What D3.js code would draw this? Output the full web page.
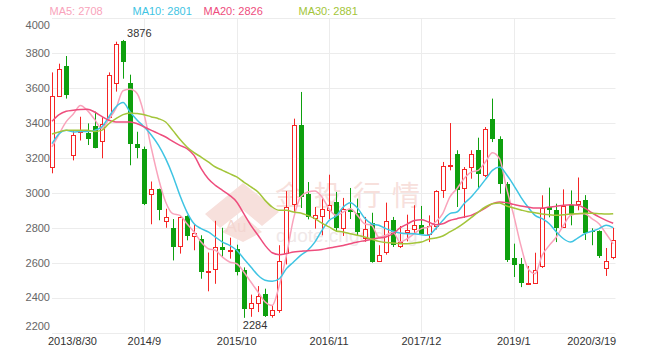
<!DOCTYPE html>
<html><head><meta charset="utf-8">
<script src="https://cdn.jsdelivr.net/npm/d3@7/dist/d3.min.js"></script>
<style>html,body{margin:0;padding:0;background:#fff;overflow:hidden}</style>
</head><body>
<svg id="c" width="655" height="356"></svg>
<script>
// ---------- DATA ----------
const categories = ["2013/8/30","2013/9","2013/10","2013/11","2013/12",
"2014/1","2014/2","2014/3","2014/4","2014/5","2014/6","2014/7","2014/8","2014/9","2014/10","2014/11","2014/12",
"2015/1","2015/2","2015/3","2015/4","2015/5","2015/6","2015/7","2015/8","2015/9","2015/10","2015/11","2015/12",
"2016/1","2016/2","2016/3","2016/4","2016/5","2016/6","2016/7","2016/8","2016/9","2016/10","2016/11","2016/12",
"2017/1","2017/2","2017/3","2017/4","2017/5","2017/6","2017/7","2017/8","2017/9","2017/10","2017/11","2017/12",
"2018/1","2018/2","2018/3","2018/4","2018/5","2018/6","2018/7","2018/8","2018/9","2018/10","2018/11","2018/12",
"2019/1","2019/2","2019/3","2019/4","2019/5","2019/6","2019/7","2019/8","2019/9","2019/10","2019/11","2019/12",
"2020/1","2020/2","2020/3/19"];
const openV  = [3150,3555,3725,3219,3350,3345,3383,3293,3436,3628,3868,3629,3280,3251,2991,3020,2841,2800,2693,2869,
                2750,2737,2547,2562,2690,2667,2680,2560,2340,2365,2422,2298,2327,2655,2939,3387,2992,2860,2866,2905,
                2948,2795,2905,2886,2741,2829,2613,2657,2842,2696,2775,2789,2818,2766,2808,3014,3151,3225,3028,3148,
                3244,3104,3425,3311,3053,2627,2594,2480,2483,2579,2919,2900,2804,2929,2934,2961,2779,2780,2571,2629];
const closeV = [3555,3708,3559,3333,3362,3312,3258,3392,3675,3853,3750,3282,3255,2936,3020,2900,2864,2690,2862,2753,
                2770,2550,2554,2690,2674,2670,2550,2336,2370,2407,2298,2327,2610,2920,3391,2976,2858,2875,2906,2933,
                2801,2906,2890,2780,2795,2608,2646,2837,2699,2718,2785,2814,2766,2810,3009,3154,3158,3020,3139,3225,
                3104,3368,3311,3053,2617,2589,2483,2485,2556,2913,2900,2799,2925,2875,2953,2772,2773,2636,2610,2728];
const highV  = [3690,3740,3784,3358,3436,3398,3465,3433,3690,3866,3876,3677,3350,3265,3065,3024,2909,2850,2865,2871,
                2818,2757,2658,2840,2800,2743,2703,2573,2417,2466,2451,2356,2700,3010,3425,3578,3062,2919,2971,3104,
                3005,2971,3028,2967,2862,2886,2700,2944,2862,2810,2875,2929,2925,2871,3015,3177,3400,3244,3148,3244,
                3316,3377,3540,3324,3062,2709,2627,2581,2657,2986,3030,2938,3020,3014,3088,2987,2797,2785,2684,2800];
const lowV   = [3112,3549,3540,3186,3300,3274,3255,3198,3427,3580,3654,3158,3198,2930,2820,2843,2800,2613,2652,2728,
                2671,2508,2436,2479,2630,2623,2527,2284,2290,2317,2289,2285,2313,2590,2890,2913,2848,2795,2757,2850,
                2776,2753,2850,2757,2720,2600,2608,2646,2690,2684,2722,2766,2760,2718,2790,2971,3129,2919,2856,3081,
                3024,3090,3291,2995,2604,2518,2460,2474,2480,2570,2860,2718,2799,2814,2900,2730,2700,2627,2524,2620];
const ma5  = [3264,3337,3408,3452,3500,3471,3421,3370,3421,3484,3585,3593,3568,3444,3253,3081,2948,2881,2871,2823,
              2776,2718,2680,2671,2632,2604,2594,2547,2489,2432,2375,2355,2470,2642,2852,2976,3005,3011,2976,2909,
              2871,2890,2909,2871,2823,2814,2747,2757,2776,2718,2737,2766,2795,2804,2833,2881,2976,3024,3081,3119,
              3129,3177,3230,3196,3024,2871,2699,2566,2537,2642,2699,2747,2814,2871,2881,2881,2852,2823,2766,2708];
const ma10 = [3282,3339,3358,3349,3352,3352,3358,3377,3435,3492,3517,3463,3416,3377,3330,3272,3196,3100,2986,2890,
              2823,2795,2776,2747,2718,2699,2671,2623,2575,2528,2499,2493,2508,2566,2604,2642,2671,2718,2785,2842,
              2867,2919,2944,2913,2856,2823,2814,2795,2780,2770,2766,2766,2760,2757,2795,2842,2881,2890,2938,2976,
              3024,3076,3129,3148,3104,3043,2976,2919,2871,2852,2823,2776,2737,2718,2741,2766,2780,2795,2814,2801];
const ma20 = [3410,3448,3467,3473,3477,3479,3463,3438,3416,3406,3406,3406,3396,3377,3358,3339,3320,3295,3272,3253,
              3215,3139,3081,3043,3014,2986,2948,2881,2814,2757,2699,2657,2646,2652,2661,2665,2669,2671,2676,2684,
              2691,2699,2709,2718,2726,2734,2741,2747,2766,2799,2821,2842,2846,2833,2818,2823,2842,2852,2862,2871,
              2890,2913,2938,2948,2944,2934,2925,2919,2913,2913,2919,2923,2929,2932,2929,2913,2886,2862,2842,2826];
const ma30 = [3337,3349,3358,3358,3358,3358,3352,3358,3396,3425,3448,3458,3454,3448,3435,3425,3406,3358,3307,3263,
              3230,3205,3177,3148,3129,3110,3091,3062,3034,3005,2957,2919,2900,2900,2890,2885,2871,2852,2827,2805,
              2782,2776,2766,2757,2747,2734,2722,2715,2713,2709,2709,2713,2718,2734,2741,2753,2776,2799,2827,2858,
              2890,2919,2938,2942,2925,2913,2902,2892,2886,2879,2875,2871,2875,2879,2881,2883,2883,2881,2879,2881];
const yTicks = [2200,2400,2600,2800,3000,3200,3400,3600,3800,4000];
const xLabelIndex = [0,13,26,39,52,65,79];
const xLabelText = ["2013/8/30","2014/9","2015/10","2016/11","2017/12","2019/1","2020/3/19"];
const legendNames = ["MA5","MA10","MA20","MA30"];
const legendValues = [2708,2801,2826,2881];
const maxLabel = 3876, minLabel = 2284;
const subNames = ["MACD","DIF: -7","DEA: -15","MACD: -16"];

(function draw() {
// ---------- STYLE ----------
const maColors = ["#f9a3bb","#3fc4e3","#ee4d7d","#a3c53a"];
const upColor = "#f52525", downColor = "#0ea00e";
const font = "'Liberation Sans', Arial, sans-serif";
const W = 655;
const pLeft = 52, pRight = 613.2, pTop = 18.3, pBottom = 332.5;

const svg = d3.select("#c");
const x = d3.scalePoint().domain(d3.range(categories.length)).range([pLeft, pRight]);
const y = d3.scaleLinear().domain([2200, 4000]).range([pBottom, pTop]);

// grid
const g = svg.append("g");
g.selectAll("line.h").data(yTicks).join("line")
  .attr("x1", pLeft).attr("x2", 615.5)
  .attr("y1", d => Math.round(y(d)) + 0.5).attr("y2", d => Math.round(y(d)) + 0.5)
  .attr("stroke", "#ececec").attr("stroke-width", 1);
g.selectAll("line.v").data(xLabelIndex.slice(1, -1)).join("line")
  .attr("x1", d => Math.round(x(d)) + 0.5).attr("x2", d => Math.round(x(d)) + 0.5)
  .attr("y1", pTop).attr("y2", pBottom)
  .attr("stroke", "#ececec").attr("stroke-width", 1);

// watermark
const wm = svg.append("g");
wm.append("path")
  .attr("d", "M205,214 L243,183 L279,212 L262,226 L243,210 L220,228 Z M222,232 L243,215 L262,232 L243,242 Z")
  .attr("fill", "#f7e0dc");
wm.append("text").attr("x", 236).attr("y", 232).attr("text-anchor", "middle")
  .attr("font-family", font).attr("font-size", 17).attr("fill", "#f3d6d1").text("Au");
wm.append("text").attr("x", 275).attr("y", 206)
  .attr("font-family", "'Noto Sans CJK SC', sans-serif").attr("font-size", 28)
  .attr("textLength", 145).attr("lengthAdjust", "spacing")
  .attr("fill", "#f7e0dc").text("金投行情");
wm.append("text").attr("x", 276).attr("y", 242)
  .attr("font-family", font).attr("font-size", 19)
  .attr("fill", "#f0e8e8").text("quote.cngold.org");

// y labels
svg.append("g").selectAll("text").data(yTicks).join("text")
  .attr("x", 50).attr("y", (d, i) => y(d) + (i === yTicks.length - 1 ? 6.7 : (i === 0 ? -6.5 : 0)))
  .attr("dy", "0.35em").attr("text-anchor", "end")
  .attr("font-family", font).attr("font-size", 11).attr("fill", "#666")
  .text(d => d);

// x labels
svg.append("g").selectAll("text").data(xLabelIndex).join("text")
  .attr("x", (d, i) => i === 0 ? x(d) - 4 : (i === xLabelIndex.length - 1 ? x(d) + 3 : x(d)))
  .attr("y", 345)
  .attr("text-anchor", (d, i) => i === 0 ? "start" : (i === xLabelIndex.length - 1 ? "end" : "middle"))
  .attr("font-family", font).attr("font-size", 11).attr("fill", "#333")
  .text((d, i) => xLabelText[i]);

// candles
const idx = d3.range(categories.length);
const up = i => closeV[i] >= openV[i];
const cx = i => Math.round(x(i));
const cg = svg.append("g");
cg.selectAll("line.w").data(idx).join("line")
  .attr("x1", i => cx(i) + 0.5).attr("x2", i => cx(i) + 0.5)
  .attr("y1", i => y(highV[i])).attr("y2", i => y(lowV[i]))
  .attr("stroke", i => up(i) ? upColor : downColor).attr("stroke-width", 1);
cg.selectAll("rect.b").data(idx).join("rect")
  .attr("x", i => up(i) ? cx(i) - 1.5 : cx(i) - 2)
  .attr("width", i => up(i) ? 4 : 5)
  .attr("y", i => Math.round(y(Math.max(openV[i], closeV[i]))) + (up(i) ? 0.5 : 0))
  .attr("height", i => Math.max(1, Math.round(Math.abs(y(openV[i]) - y(closeV[i])))))
  .attr("fill", i => up(i) ? "#fff" : downColor)
  .attr("stroke", i => up(i) ? upColor : "none")
  .attr("stroke-width", 1);

// MA lines
const line = d3.line().x((d, i) => x(i)).y(d => y(d)).curve(d3.curveMonotoneX);
[ma5, ma10, ma20, ma30].forEach((s, k) => {
  svg.append("path").attr("d", line(s)).attr("fill", "none")
    .attr("stroke", maColors[k]).attr("stroke-width", 1.5);
});

// max/min labels
const iMax = highV.indexOf(d3.max(highV)), iMin = lowV.indexOf(d3.min(lowV));
svg.append("text").attr("x", x(iMax) + 4).attr("y", y(maxLabel) - 2.5)
  .attr("font-family", font).attr("font-size", 11).attr("fill", "#333").text(maxLabel);
svg.append("text").attr("x", x(iMin) - 1).attr("y", y(minLabel) + 11)
  .attr("font-family", font).attr("font-size", 11).attr("fill", "#333").text(minLabel);

// legend
const legX = [49.5, 132.5, 203.5, 298.5];
svg.append("g").selectAll("text").data(legendNames).join("text")
  .attr("x", (d, i) => legX[i]).attr("y", 15)
  .attr("font-family", font).attr("font-size", 11).attr("fill", (d, i) => maColors[i])
  .text((d, i) => d + ": " + legendValues[i]);

// second legend row, cut by the chart container at the bottom edge
svg.append("clipPath").attr("id", "cut").append("rect")
  .attr("x", 0).attr("y", 340).attr("width", W).attr("height", 9);
const subColors = ["#555", "#2fc4ea", "#e02bd6", "#f02020"];
const subX = [15, 58, 140, 223];
svg.append("g").attr("clip-path", "url(#cut)").selectAll("text").data(subNames).join("text")
  .attr("x", (d, i) => subX[i]).attr("y", 357)
  .attr("font-family", font).attr("font-size", 11).attr("fill", (d, i) => subColors[i])
  .text(d => d);
})();
</script>
</body></html>
